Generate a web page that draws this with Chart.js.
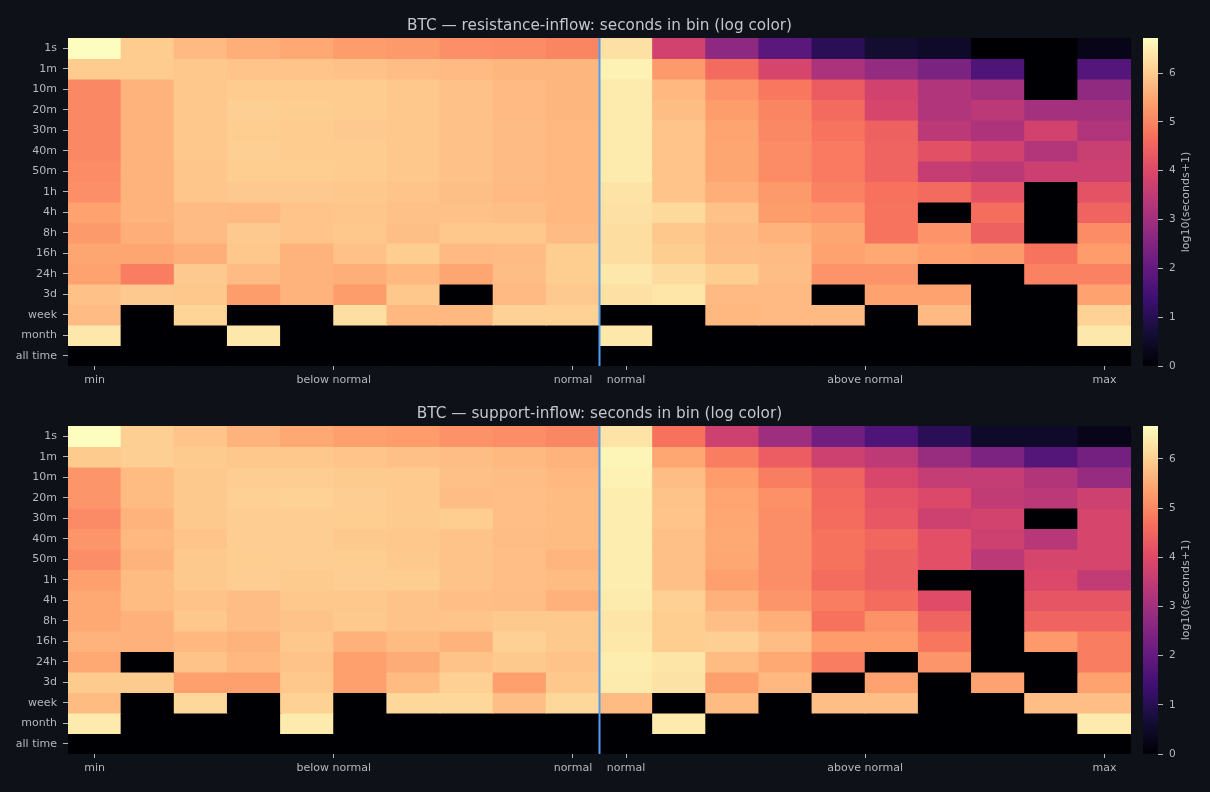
<!DOCTYPE html>
<html>
<head>
<meta charset="utf-8">
<title>BTC seconds in bin</title>
<script src="https://cdn.jsdelivr.net/npm/chart.js@4.4.1/dist/chart.umd.min.js"></script>
<style>
    html, body { margin: 0; padding: 0; background: #0e1117; overflow: hidden; }
    canvas { position: absolute; display: block; }
</style>
</head>
<body>
<canvas id="heatTop" width="1136" height="388" style="left:0;top:0"></canvas>
<canvas id="barTop" width="74" height="388" style="left:1136px;top:0"></canvas>
<canvas id="heatBottom" width="1136" height="388" style="left:0;top:388px"></canvas>
<canvas id="barBottom" width="74" height="388" style="left:1136px;top:388px"></canvas>
<script>
const rowLabels = ['1s', '1m', '10m', '20m', '30m', '40m', '50m', '1h', '4h', '8h', '16h', '24h', '3d', 'week', 'month', 'all time'];
const colCount = 20;
const xTickPos = [0.5, 5, 9.5, 10.5, 15, 19.5];
const xTickLabels = ['min', 'below normal', 'normal', 'normal', 'above normal', 'max'];
const colorbarTicks = [0, 1, 2, 3, 4, 5, 6];
const normalSplit = 10;

// log10(seconds+1), one row per duration bucket, 20 price bins per row
const resistanceLog = [
    [6.72, 6.0, 5.75, 5.6, 5.5, 5.35, 5.3, 5.15, 5.1, 5.0, 6.3, 3.8, 2.7, 1.85, 1.05, 0.6, 0.5, 0, 0, 0.25],
    [6.0, 6.0, 5.95, 5.9, 5.9, 5.85, 5.8, 5.75, 5.7, 5.7, 6.55, 5.3, 4.6, 3.9, 3.15, 2.8, 2.4, 1.65, 0, 1.75],
    [5.05, 5.65, 5.95, 6.0, 6.0, 6.0, 5.95, 5.85, 5.75, 5.7, 6.45, 5.72, 5.2, 4.8, 4.35, 3.8, 3.25, 3.05, 0, 2.75],
    [5.05, 5.65, 5.95, 6.05, 6.02, 6.0, 5.95, 5.85, 5.75, 5.7, 6.45, 5.8, 5.35, 5.0, 4.6, 3.9, 3.25, 3.45, 3.05, 3.05],
    [5.05, 5.65, 5.95, 6.02, 6.0, 5.97, 5.95, 5.85, 5.77, 5.72, 6.45, 5.9, 5.45, 5.05, 4.75, 4.45, 3.45, 3.2, 3.8, 3.25],
    [5.05, 5.65, 5.95, 6.05, 6.0, 6.0, 5.95, 5.85, 5.77, 5.72, 6.45, 5.9, 5.47, 5.1, 4.85, 4.5, 4.15, 3.8, 3.3, 3.65],
    [5.1, 5.65, 5.92, 6.02, 6.02, 6.0, 5.95, 5.85, 5.77, 5.72, 6.45, 5.9, 5.47, 5.1, 4.85, 4.5, 3.6, 3.45, 3.7, 3.7],
    [5.15, 5.65, 5.92, 5.97, 5.97, 5.95, 5.9, 5.83, 5.75, 5.72, 6.35, 5.9, 5.58, 5.3, 4.95, 4.72, 4.6, 4.2, 0, 4.2],
    [5.42, 5.65, 5.77, 5.75, 5.9, 5.92, 5.85, 5.85, 5.83, 5.72, 6.3, 6.2, 5.85, 5.35, 5.25, 4.75, 0, 4.65, 0, 4.5],
    [5.3, 5.6, 5.77, 5.97, 5.9, 5.95, 5.83, 5.95, 5.95, 5.77, 6.25, 5.95, 5.77, 5.65, 5.47, 4.75, 5.2, 4.45, 0, 5.1],
    [5.47, 5.47, 5.6, 5.95, 5.65, 5.85, 6.02, 5.75, 5.77, 6.02, 6.25, 6.02, 5.8, 5.77, 5.42, 5.5, 5.38, 5.3, 4.75, 5.33],
    [5.42, 4.9, 5.97, 5.77, 5.65, 5.6, 5.72, 5.47, 5.8, 6.02, 6.4, 6.22, 6.02, 5.8, 5.2, 5.2, 0, 0, 4.95, 4.95],
    [5.85, 5.97, 5.95, 5.35, 5.65, 5.35, 5.95, 0, 5.75, 5.97, 6.3, 6.38, 5.75, 5.75, 0, 5.42, 5.42, 0, 0, 5.42],
    [5.77, 0, 6.12, 0, 0, 6.28, 5.72, 5.72, 6.08, 6.08, 0, 0, 5.72, 5.75, 5.75, 0, 5.75, 0, 0, 6.08],
    [6.4, 0, 0, 6.4, 0, 0, 0, 0, 0, 0, 6.4, 0, 0, 0, 0, 0, 0, 0, 0, 6.4],
    [0, 0, 0, 0, 0, 0, 0, 0, 0, 0, 0, 0, 0, 0, 0, 0, 0, 0, 0, 0]
];

const supportLog = [
    [6.67, 6.0, 5.85, 5.6, 5.47, 5.35, 5.3, 5.15, 5.1, 5.0, 6.3, 4.7, 3.7, 2.95, 2.2, 1.65, 1.05, 0.5, 0.5, 0.25],
    [5.95, 6.0, 5.95, 5.9, 5.9, 5.85, 5.8, 5.75, 5.7, 5.62, 6.55, 5.45, 4.85, 4.35, 3.7, 3.45, 2.85, 2.4, 1.75, 2.25],
    [5.2, 5.72, 5.92, 5.98, 5.98, 5.95, 5.93, 5.8, 5.75, 5.68, 6.5, 5.75, 5.3, 4.85, 4.45, 3.9, 3.55, 3.55, 3.25, 2.8],
    [5.2, 5.72, 5.92, 6.02, 6.05, 5.98, 5.93, 5.75, 5.77, 5.72, 6.45, 5.83, 5.42, 5.12, 4.55, 4.15, 3.95, 3.5, 3.4, 3.7],
    [5.05, 5.6, 5.92, 5.98, 5.98, 5.97, 5.95, 5.97, 5.77, 5.72, 6.45, 5.85, 5.45, 5.1, 4.6, 4.25, 3.7, 3.8, 0, 3.85],
    [5.2, 5.68, 5.85, 5.98, 5.98, 5.92, 5.9, 5.83, 5.75, 5.72, 6.45, 5.8, 5.47, 5.1, 4.7, 4.5, 4.1, 3.7, 3.35, 3.85],
    [5.1, 5.6, 5.92, 5.97, 5.98, 5.97, 5.92, 5.83, 5.77, 5.65, 6.45, 5.8, 5.45, 5.1, 4.7, 4.4, 4.1, 3.42, 3.85, 3.85],
    [5.35, 5.72, 5.92, 5.98, 5.95, 5.98, 5.97, 5.83, 5.77, 5.72, 6.45, 5.8, 5.35, 5.1, 4.6, 4.4, 0, 0, 3.95, 3.5],
    [5.47, 5.72, 5.83, 5.75, 5.9, 5.9, 5.83, 5.77, 5.75, 5.58, 6.4, 6.02, 5.58, 5.2, 4.85, 4.6, 4.05, 0, 4.2, 4.2],
    [5.47, 5.58, 5.9, 5.75, 5.83, 5.92, 5.83, 5.85, 5.92, 5.92, 6.32, 5.97, 5.77, 5.55, 4.7, 5.15, 4.45, 0, 4.45, 4.45],
    [5.6, 5.58, 5.68, 5.6, 5.9, 5.58, 5.72, 5.6, 6.02, 5.92, 6.35, 5.97, 6.0, 5.75, 5.3, 5.3, 4.75, 0, 5.25, 4.85],
    [5.47, 0, 5.83, 5.68, 5.83, 5.35, 5.52, 5.83, 5.92, 5.83, 6.45, 6.32, 5.72, 5.47, 4.85, 0, 5.2, 0, 0, 4.85],
    [5.95, 5.95, 5.35, 5.35, 5.9, 5.35, 5.72, 6.02, 5.35, 5.9, 6.4, 6.28, 5.35, 5.68, 0, 5.38, 0, 5.38, 0, 5.38],
    [5.72, 0, 6.12, 0, 6.05, 0, 6.12, 6.12, 5.77, 6.12, 5.72, 0, 5.72, 0, 5.77, 5.77, 0, 0, 5.77, 5.77],
    [6.4, 0, 0, 0, 6.4, 0, 0, 0, 0, 0, 0, 6.4, 0, 0, 0, 0, 0, 0, 0, 6.4],
    [0, 0, 0, 0, 0, 0, 0, 0, 0, 0, 0, 0, 0, 0, 0, 0, 0, 0, 0, 0]
];

const magmaStops = ['#000004', '#140e36', '#3b0f70', '#641a80', '#8c2981', '#b73779',
    '#de4968', '#f7705c', '#fe9f6d', '#fecf92', '#fcfdbf'];

const TEXT_COLOR = '#c4c7cc';
const TICK_COLOR = '#b4b8be';

Chart.defaults.font.family = "'DejaVu Sans', sans-serif";
Chart.defaults.font.size = 11;
Chart.defaults.animation = false;

function hexToRgb(hex) {
    return [1, 3, 5].map(i => parseInt(hex.slice(i, i + 2), 16));
}

function magma(t) {
    t = Math.max(0, Math.min(1, t));
    const pos = t * (magmaStops.length - 1);
    const i = Math.min(Math.floor(pos), magmaStops.length - 2);
    const f = pos - i;
    const a = hexToRgb(magmaStops[i]);
    const b = hexToRgb(magmaStops[i + 1]);
    const c = a.map((v, k) => Math.round(v + (b[k] - v) * f));
    return `rgb(${c[0]}, ${c[1]}, ${c[2]})`;
}

function maxOf(grid) {
    return Math.max(...grid.map(row => Math.max(...row)));
}

function renderHeatmap(canvasId, title, grid) {
    const vmax = maxOf(grid);

    const rowDatasets = grid.map((row, r) => ({
        type: 'bar',
        label: rowLabels[r],
        data: row.map((v, c) => ({ x: c + 0.5, y: 1 })),
        backgroundColor: row.map(v => magma(v / vmax)),
        borderWidth: 0,
        barPercentage: 1,
        categoryPercentage: 1,
        inflateAmount: 0.5
    }));

    const splitLine = {
        type: 'line',
        label: 'split',
        data: [{ x: normalSplit, y: 0 }, { x: normalSplit, y: rowLabels.length }],
        borderColor: '#4f9df0',
        borderWidth: 2,
        pointRadius: 0,
        order: -1,
        stack: 'split'
    };

    new Chart(document.getElementById(canvasId), {
        data: { datasets: [...rowDatasets, splitLine] },
        options: {
            responsive: false,
            layout: { padding: { left: 0, right: 5, top: 0, bottom: 0 } },
            plugins: {
                legend: { display: false },
                tooltip: { enabled: false },
                title: {
                    display: true,
                    text: title,
                    fullSize: false,
                    color: TEXT_COLOR,
                    font: { size: 15.28, weight: 'normal' },
                    padding: { top: 17, bottom: 2.66 }
                }
            },
            scales: {
                x: {
                    type: 'linear',
                    stacked: true,
                    min: 0,
                    max: colCount,
                    offset: false,
                    afterBuildTicks: scale => {
                        scale.ticks = xTickPos.map(v => ({ value: v }));
                    },
                    afterFit: scale => { scale.height = 22; },
                    ticks: {
                        autoSkip: false,
                        maxRotation: 0,
                        color: TICK_COLOR,
                        padding: 4,
                        callback: (value, index) => xTickLabels[index]
                    },
                    grid: { offset: false, drawOnChartArea: false, drawTicks: true, tickLength: 4, color: TICK_COLOR },
                    border: { display: false }
                },
                y: {
                    type: 'linear',
                    stacked: true,
                    reverse: true,
                    min: 0,
                    max: rowLabels.length,
                    afterBuildTicks: scale => {
                        scale.ticks = rowLabels.map((_, i) => ({ value: i + 0.5 }));
                    },
                    afterFit: scale => { scale.width = 68; },
                    ticks: {
                        autoSkip: false,
                        color: TICK_COLOR,
                        padding: 6,
                        callback: (value, index) => rowLabels[index]
                    },
                    grid: { offset: false, drawOnChartArea: false, drawTicks: true, tickLength: 5, color: TICK_COLOR },
                    border: { display: false }
                }
            }
        }
    });

    return vmax;
}

const colorbarLabel = {
    id: 'colorbarLabel',
    afterDraw(chart) {
        const ctx = chart.ctx;
        const area = chart.chartArea;
        ctx.save();
        ctx.translate(50, (area.top + area.bottom) / 2);
        ctx.rotate(-Math.PI / 2);
        ctx.fillStyle = TICK_COLOR;
        ctx.font = "11px 'DejaVu Sans', sans-serif";
        ctx.textAlign = 'center';
        ctx.textBaseline = 'middle';
        ctx.fillText('log10(seconds+1)', 0, 0);
        ctx.restore();
    }
};

function renderColorbar(canvasId, vmax) {
    new Chart(document.getElementById(canvasId), {
        type: 'bar',
        data: {
            labels: ['scale'],
            datasets: [{
                data: [[0, vmax]],
                borderWidth: 0,
                barPercentage: 1,
                categoryPercentage: 1,
                backgroundColor: context => {
                    const area = context.chart.chartArea;
                    if (!area) return magmaStops[5];
                    const grad = context.chart.ctx.createLinearGradient(0, area.bottom, 0, area.top);
                    magmaStops.forEach((c, i) => grad.addColorStop(i / (magmaStops.length - 1), c));
                    return grad;
                }
            }]
        },
        options: {
            responsive: false,
            layout: { padding: { left: 7, right: 0, top: 38, bottom: 22 } },
            plugins: {
                legend: { display: false },
                tooltip: { enabled: false }
            },
            scales: {
                x: { display: false },
                y: {
                    position: 'right',
                    min: 0,
                    max: vmax,
                    afterBuildTicks: scale => {
                        scale.ticks = colorbarTicks.map(v => ({ value: v }));
                    },
                    afterFit: scale => { scale.width = 52; },
                    ticks: { color: TICK_COLOR, padding: 6, font: { size: 10.5 } },
                    grid: { drawOnChartArea: false, drawTicks: true, tickLength: 5, color: TICK_COLOR },
                    border: { display: false }
                }
            }
        },
        plugins: [colorbarLabel]
    });
}

document.addEventListener('DOMContentLoaded', () => {
    const topMax = renderHeatmap('heatTop', 'BTC — resistance-inflow: seconds in bin (log color)', resistanceLog);
    renderColorbar('barTop', topMax);

    const bottomMax = renderHeatmap('heatBottom', 'BTC — support-inflow: seconds in bin (log color)', supportLog);
    renderColorbar('barBottom', bottomMax);
});
</script>
</body>
</html>
